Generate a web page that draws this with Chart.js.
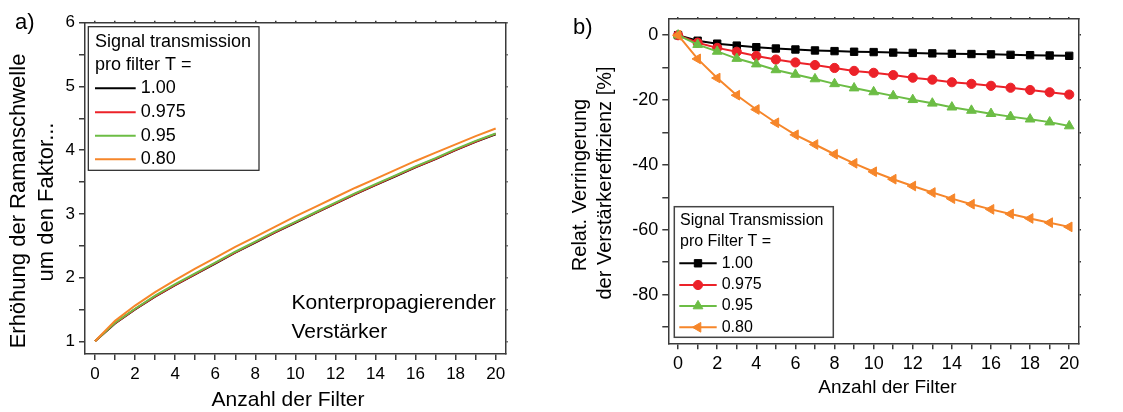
<!DOCTYPE html>
<html><head><meta charset="utf-8">
<script src="https://cdn.jsdelivr.net/npm/chart.js@4/dist/chart.umd.min.js"></script>
<style>
html,body{margin:0;padding:0;background:#fff;width:1123px;height:412px;overflow:hidden}
canvas{position:absolute;top:0}
#c1{left:0}
#c2{left:560px}
</style></head><body>
<canvas id="c1" width="560" height="412"></canvas>
<canvas id="c2" width="563" height="412"></canvas>
<script>
// ---------- data ----------
const filterCounts = [0,1,2,3,4,5,6,7,8,9,10,11,12,13,14,15,16,17,18,19,20];
const transmissionLabels = ['1.00','0.975','0.95','0.80'];

// (a) Erhöhung der Ramanschwelle
const ramanT100  = [1.00,1.28,1.50,1.70,1.88,2.05,2.22,2.39,2.55,2.71,2.86,3.01,3.16,3.31,3.45,3.59,3.73,3.86,4.00,4.13,4.25];
const ramanT0975 = [1.00,1.285,1.505,1.705,1.885,2.055,2.225,2.395,2.555,2.715,2.865,3.015,3.165,3.315,3.455,3.595,3.735,3.865,4.005,4.135,4.255];
const ramanT095  = [1.00,1.29,1.51,1.715,1.895,2.065,2.235,2.405,2.565,2.725,2.875,3.025,3.175,3.325,3.465,3.605,3.745,3.875,4.015,4.145,4.26];
const ramanT080  = [1.00,1.32,1.56,1.77,1.96,2.14,2.31,2.48,2.64,2.80,2.96,3.11,3.26,3.41,3.55,3.69,3.83,3.96,4.09,4.22,4.34];

// (b) Relat. Verringerung der Verstärkereffizienz [%]
const effT100  = [0,-1.7,-2.6,-3.2,-3.7,-4.1,-4.4,-4.7,-4.9,-5.1,-5.2,-5.35,-5.45,-5.6,-5.7,-5.8,-5.9,-6.05,-6.15,-6.25,-6.35];
const effT0975 = [0,-2.3,-3.9,-5.1,-6.4,-7.5,-8.4,-9.2,-10.1,-11.0,-11.6,-12.3,-13.1,-13.7,-14.5,-15.0,-15.6,-16.2,-16.9,-17.6,-18.3];
const effT095  = [0,-2.9,-5.0,-7.2,-8.9,-10.7,-12.1,-13.5,-15.0,-16.3,-17.5,-18.7,-19.9,-21.0,-22.2,-23.2,-24.2,-25.1,-25.9,-26.8,-28.0];
const effT080  = [0,-7.3,-13.2,-18.5,-22.9,-27.0,-30.7,-33.7,-36.7,-39.5,-42.1,-44.4,-46.5,-48.5,-50.4,-52.1,-53.7,-55.1,-56.5,-57.8,-59.1];

// ---------- styles ----------
const FONT = '"Liberation Sans", Arial, Helvetica, sans-serif';
const FRAME = '#3a3a3a';
const seriesColors = ['#000000','#ec2229','#6cbd45','#f6862a'];
const pointStyles = ['rect','circle','triangle','triangle'];
const pointRotations = [0,0,0,-90];
const pointRadii = [5.2,4.6,5.6,5.6];

const pts = vals => filterCounts.map((n,i) => ({x:n, y:vals[i]}));
// regular ticks on multiples of `step` inside the scale range
const gridTicks = step => s => {
  const t = [];
  const k0 = Math.ceil(s.min/step - 1e-9), k1 = Math.floor(s.max/step + 1e-9);
  for (let k = k0; k <= k1; k++) t.push({value: Math.round(k*step*1e6)/1e6});
  s.ticks = t;
};

function mainAxis(pos, min, max, step, labelEvery, fontSize, fit, tickLen){
  const horiz = pos === 'bottom' || pos === 'top';
  return {
    type:'linear', position:pos, min, max,
    afterBuildTicks: gridTicks(step),
    afterFit: s => { if (horiz) s.height = fit; else s.width = fit; },
    ticks:{stepSize:step, includeBounds:false, autoSkip:false, maxRotation:0, minRotation:0, maxTicksLimit:200, padding:4, color:'#000',
      font:{family:FONT, size:fontSize},
      callback: v => (Math.abs(v/labelEvery - Math.round(v/labelEvery)) < 1e-6 ? String(Math.round(v)) : '')},
    grid:{drawOnChartArea:false, drawTicks:true, tickLength:tickLen, color:FRAME, lineWidth:1.5},
    border:{display:true, color:FRAME, width:1.5}
  };
}
function mirrorAxis(pos, min, max, step, fit){
  const horiz = pos === 'bottom' || pos === 'top';
  return {
    type:'linear', position:pos, min, max,
    afterBuildTicks: gridTicks(step),
    afterFit: s => { if (horiz) s.height = fit; else s.width = fit; },
    ticks:{display:false, stepSize:step, includeBounds:false, autoSkip:false, maxTicksLimit:200},
    grid:{drawOnChartArea:false, drawTicks:true, tickLength:2, color:FRAME, lineWidth:1.5},
    border:{display:true, color:FRAME, width:1.5}
  };
}

function drawLegend(chart, L){
  const ctx = chart.ctx;
  ctx.save();
  ctx.fillStyle = '#fff';
  ctx.fillRect(L.x0, L.y0, L.x1-L.x0, L.y1-L.y0);
  ctx.strokeStyle = L.border; ctx.lineWidth = L.borderWidth;
  ctx.strokeRect(L.x0, L.y0, L.x1-L.x0, L.y1-L.y0);
  ctx.font = L.size + 'px ' + FONT;
  ctx.fillStyle = '#000'; ctx.textAlign = 'left'; ctx.textBaseline = 'middle';
  L.title.forEach((line,i) => ctx.fillText(line, L.titleX, L.titleY[i]));
  chart.data.datasets.forEach((ds,i) => {
    const y = L.rowY[i];
    ctx.strokeStyle = ds.borderColor; ctx.lineWidth = ds.borderWidth;
    ctx.beginPath(); ctx.moveTo(L.lineX0, y); ctx.lineTo(L.lineX1, y); ctx.stroke();
    if (L.markers && ds.pointRadius > 0) {
      ctx.fillStyle = ds.pointBackgroundColor; ctx.strokeStyle = ds.pointBorderColor; ctx.lineWidth = 1;
      Chart.helpers.drawPoint(ctx, {pointStyle: ds.pointStyle, radius: ds.pointRadius, rotation: ds.pointRotation || 0, borderWidth: 1}, (L.lineX0+L.lineX1)/2, y);
    }
    ctx.fillStyle = '#000';
    ctx.font = L.size + 'px ' + FONT;
    ctx.fillText(ds.label, L.textX, y);
  });
  ctx.restore();
}

const decoPlugin = {
  id:'deco',
  afterDraw(chart, args, o){
    const ctx = chart.ctx;
    (o.texts || []).forEach(t => {
      ctx.save();
      ctx.font = t.size + 'px ' + FONT;
      ctx.fillStyle = '#000';
      ctx.textAlign = t.align || 'center';
      ctx.textBaseline = 'middle';
      ctx.translate(t.x, t.y);
      if (t.rot) ctx.rotate(t.rot);
      ctx.fillText(t.text, 0, 0);
      ctx.restore();
    });
    if (o.legend) drawLegend(chart, o.legend);
  }
};

// ---------- chart (a) ----------
const ramanSeries = [ramanT100, ramanT0975, ramanT095, ramanT080];
new Chart(document.getElementById('c1'), {
  type:'line',
  data:{ datasets: ramanSeries.map((vals,i) => ({
    label: transmissionLabels[i], data: pts(vals),
    borderColor: seriesColors[i], backgroundColor: seriesColors[i],
    borderWidth: 2, pointRadius: 0, tension: 0, order: 4-i
  }))},
  options:{
    responsive:false, animation:false, devicePixelRatio:1,
    layout:{padding:{top:15.7, right:47.3, left:0, bottom:0}},
    scales:{
      x: mainAxis('bottom', -0.5, 20.5, 1, 2, 17, 58, 6),
      y: mainAxis('left', 0.8, 6, 0.5, 1, 17, 85, 6),
      x2: mirrorAxis('top', -0.5, 20.5, 1, 7),
      y2: mirrorAxis('right', 0.8, 6, 0.5, 7)
    },
    plugins:{
      legend:{display:false}, tooltip:{enabled:false},
      deco:{
        texts:[
          {text:'a)', x:15, y:23, size:22, align:'left'},
          {text:'Erhöhung der Ramanschwelle', x:19, y:201, size:22, rot:-Math.PI/2},
          {text:'um den Faktor...', x:47, y:202, size:22, rot:-Math.PI/2},
          {text:'Anzahl der Filter', x:288, y:400, size:21},
          {text:'Konterpropagierender', x:291.5, y:303, size:21, align:'left'},
          {text:'Verstärker', x:291.5, y:332, size:21, align:'left'}
        ],
        legend:{x0:88.3, y0:26.7, x1:259, y1:170.3, border:'#222', borderWidth:1.2, size:18,
          title:['Signal transmission','pro filter T ='], titleX:95, titleY:[41.7,65],
          rowY:[88.3,112.3,135.7,159.3], lineX0:95, lineX1:135.7, textX:140.7, markers:false}
      }
    }
  },
  plugins:[decoPlugin]
});

// ---------- chart (b) ----------
const effSeries = [effT100, effT0975, effT095, effT080];
new Chart(document.getElementById('c2'), {
  type:'line',
  data:{ datasets: effSeries.map((vals,i) => ({
    label: transmissionLabels[i], data: pts(vals),
    borderColor: seriesColors[i], backgroundColor: seriesColors[i],
    pointBackgroundColor: seriesColors[i], pointBorderColor: seriesColors[i],
    borderWidth: 2, pointRadius: pointRadii[i], pointStyle: pointStyles[i],
    pointRotation: pointRotations[i], pointBorderWidth: 1, tension: 0, order: 4-i
  }))},
  options:{
    responsive:false, animation:false, devicePixelRatio:1,
    layout:{padding:{top:12, right:37, left:0, bottom:0}},
    scales:{
      x: mainAxis('bottom', -0.5, 20.5, 1, 2, 18, 68.7, 6),
      y: mainAxis('left', -95, 5, 10, 20, 18, 108.3, 6),
      x2: mirrorAxis('top', -0.5, 20.5, 1, 7),
      y2: mirrorAxis('right', -95, 5, 10, 7)
    },
    plugins:{
      legend:{display:false}, tooltip:{enabled:false},
      deco:{
        texts:[
          {text:'b)', x:13, y:28, size:22, align:'left'},
          {text:'Relat. Verringerung', x:20, y:185, size:20, rot:-Math.PI/2},
          {text:'der Verstärkereffizienz [%]', x:45, y:183, size:20, rot:-Math.PI/2},
          {text:'Anzahl der Filter', x:327.5, y:388, size:19}
        ],
        legend:{x0:114.3, y0:206.7, x1:273.3, y1:337.3, border:'#444', borderWidth:1.5, size:16,
          title:['Signal Transmission','pro Filter T ='], titleX:120, titleY:[220.7,241.7],
          rowY:[263.3,285,306,327.3], lineX0:119.3, lineX1:156.7, textX:161.7, markers:true}
      }
    }
  },
  plugins:[decoPlugin]
});
</script>
</body></html>
